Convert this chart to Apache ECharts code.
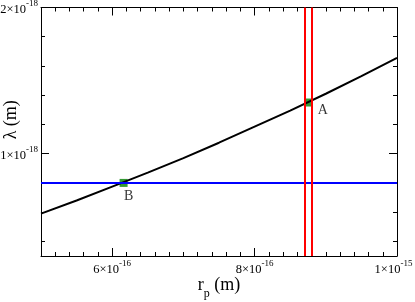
<!DOCTYPE html>
<html>
<head>
<meta charset="utf-8">
<script src="https://cdn.jsdelivr.net/npm/echarts@6/dist/echarts.min.js"></script>
<style>html,body{margin:0;padding:0;background:#fff}#c{width:415px;height:302px}</style>
</head>
<body>
<div id="c"></div>
<script>
// ---- data (metres) ----
const rp = [5.0e-16, 5.5e-16, 6.0e-16, 6.5e-16, 7.0e-16, 7.5e-16, 8.0e-16, 8.5e-16, 9.0e-16, 9.5e-16, 1.0e-15];
const lambda = [0.590e-18, 0.680e-18, 0.775e-18, 0.870e-18, 0.970e-18, 1.075e-18, 1.185e-18, 1.295e-18, 1.410e-18, 1.530e-18, 1.655e-18];
const pointNames = ['A', 'B'];
const pointR = [8.76e-16, 6.16e-16];
const pointL = [1.35e-18, 0.80e-18];
const redLinesR = [8.71e-16, 8.80e-16];
const blueLineL = [0.80e-18];
const xRange = [5e-16, 1e-15];
const yRange = [0.3e-18, 2e-18];
const xMajorTicks = [6e-16, 8e-16, 1e-15];
const xMajorLabels = [['6×10', '-16'], ['8×10', '-16'], ['1×10', '-15']];
const xMinorTicks = [5.2e-16,5.4e-16,5.6e-16,5.8e-16,6.2e-16,6.4e-16,6.6e-16,6.8e-16,7.0e-16,7.2e-16,7.4e-16,7.6e-16,7.8e-16,8.2e-16,8.4e-16,8.6e-16,8.8e-16,9.0e-16,9.2e-16,9.4e-16,9.6e-16,9.8e-16];
const yMajorTicks = [1e-18, 2e-18];
const yMajorLabels = [['1×10', '-18'], ['2×10', '-18']];
const yMinorTicks = [0.4e-18, 0.6e-18, 0.8e-18, 1.2e-18, 1.4e-18, 1.6e-18, 1.8e-18];
const xTitle = ['r', 'p', ' (m)'];
const yTitle = 'λ (m)';

// ---- scaling to plot units ----
const XU = 1e-16, YU = 1e-18;
const sx = v => Math.round(v / XU * 1e6) / 1e6;
const sy = v => Math.round(v / YU * 1e6) / 1e6;

const FONT = "'Liberation Serif','Times New Roman',serif";
const rich = {
  m: { fontFamily: FONT, fontSize: 12.5, lineHeight: 17, verticalAlign: 'bottom', color: '#000' },
  e: { fontFamily: FONT, fontSize: 9, lineHeight: 17, verticalAlign: 'top', color: '#000' },
  eEnd: { fontFamily: FONT, fontSize: 9, lineHeight: 17, verticalAlign: 'top', color: '#000', padding: [0, 7, 0, 0] }
};
function fmt(ticks, labels, scale, shiftLast) {
  return function (v) {
    for (let i = 0; i < ticks.length; i++) {
      if (Math.abs(scale(ticks[i]) - v) < 1e-6) {
        const es = (shiftLast && i === ticks.length - 1) ? 'eEnd' : 'e';
        return '{m|' + labels[i][0] + '}{' + es + '|' + labels[i][1] + '}';
      }
    }
    return '';
  };
}

function xAxisDef(pos, ticks, len, withLabels, withLine) {
  const a = {
    type: 'value', position: pos, min: sx(xRange[0]), max: sx(xRange[1]),
    axisLine: { show: withLine, onZero: false, lineStyle: { color: '#000', width: 1 } },
    splitLine: { show: false },
    axisTick: { show: true, inside: true, length: len, customValues: ticks.map(sx), lineStyle: { color: '#000', width: 1 } },
    axisLabel: { show: false }
  };
  if (withLabels) {
    a.axisLabel = { show: true, customValues: xMajorTicks.map(sx), formatter: fmt(xMajorTicks, xMajorLabels, sx, true), rich: rich, margin: 3 };
    a.name = '{a|' + xTitle[0] + '}{s|' + xTitle[1] + '}{a|' + xTitle[2] + '}';
    a.nameLocation = 'middle';
    a.nameGap = 20;
    a.nameMoveOverlap = false;
    a.nameTextStyle = {
      rich: {
        a: { fontFamily: FONT, fontSize: 18, lineHeight: 24, verticalAlign: 'top', color: '#000' },
        s: { fontFamily: FONT, fontSize: 12, lineHeight: 24, verticalAlign: 'bottom', color: '#000' }
      }
    };
  }
  return a;
}
function yAxisDef(pos, ticks, len, withLabels, withLine) {
  const a = {
    type: 'value', position: pos, min: sy(yRange[0]), max: sy(yRange[1]),
    axisLine: { show: withLine, onZero: false, lineStyle: { color: '#000', width: 1 } },
    splitLine: { show: false },
    axisTick: { show: true, inside: true, length: len, customValues: ticks.map(sy), lineStyle: { color: '#000', width: 1 } },
    axisLabel: { show: false }
  };
  if (withLabels) {
    a.axisLabel = { show: true, customValues: yMajorTicks.map(sy), formatter: fmt(yMajorTicks, yMajorLabels, sy, false), rich: rich, margin: 3 };
    a.name = yTitle;
    a.nameLocation = 'middle';
    a.nameRotate = 90;
    a.nameGap = 21;
    a.nameMoveOverlap = false;
    a.nameTextStyle = { fontFamily: FONT, fontSize: 18, color: '#000', padding: [0, 0, 0, 24] };
  }
  return a;
}

const chart = echarts.init(document.getElementById('c'), null, { renderer: 'canvas' });
chart.setOption({
  animation: false,
  backgroundColor: '#fff',
  grid: { left: 41, right: 18, top: 7.5, bottom: 46, containLabel: false, outerBoundsMode: 'none' },
  xAxis: [
    xAxisDef('bottom', xMajorTicks, 8, true, true),
    xAxisDef('bottom', xMinorTicks, 4, false, false),
    xAxisDef('top', xMajorTicks, 8, false, true),
    xAxisDef('top', xMinorTicks, 4, false, false)
  ],
  yAxis: [
    yAxisDef('left', yMajorTicks, 8, true, true),
    yAxisDef('left', yMinorTicks, 4, false, false),
    yAxisDef('right', yMajorTicks, 8, false, true),
    yAxisDef('right', yMinorTicks, 4, false, false)
  ],
  series: [
    {
      type: 'line', xAxisIndex: 0, yAxisIndex: 0, silent: true,
      data: [],
      markLine: {
        symbol: 'none', silent: true, label: { show: false },
        data: [
          ...blueLineL.map(v => ({ yAxis: sy(v), lineStyle: { color: '#0000ff', width: 2, type: 'solid' } })),
          ...redLinesR.map(v => ({ xAxis: sx(v), lineStyle: { color: '#ff0000', width: 2, type: 'solid' } }))
        ]
      }
    },
    {
      type: 'line', xAxisIndex: 0, yAxisIndex: 0, showSymbol: false, symbol: 'none',
      lineStyle: { color: '#000', width: 2 },
      data: rp.map((r, i) => [sx(r), sy(lambda[i])])
    },
    {
      type: 'scatter', xAxisIndex: 0, yAxisIndex: 0, symbol: 'rect', symbolSize: 8,
      itemStyle: { color: '#008000' },
      data: pointNames.map((n, i) => ({
        value: [sx(pointR[i]), sy(pointL[i])], name: n,
        label: i === 0 ? { position: 'right', offset: [0, 8] } : { position: 'bottom', offset: [5, -3] }
      })),
      label: { show: true, formatter: p => p.name, fontFamily: FONT, fontSize: 14, color: '#000' }
    }
  ]
});
</script>
</body>
</html>
